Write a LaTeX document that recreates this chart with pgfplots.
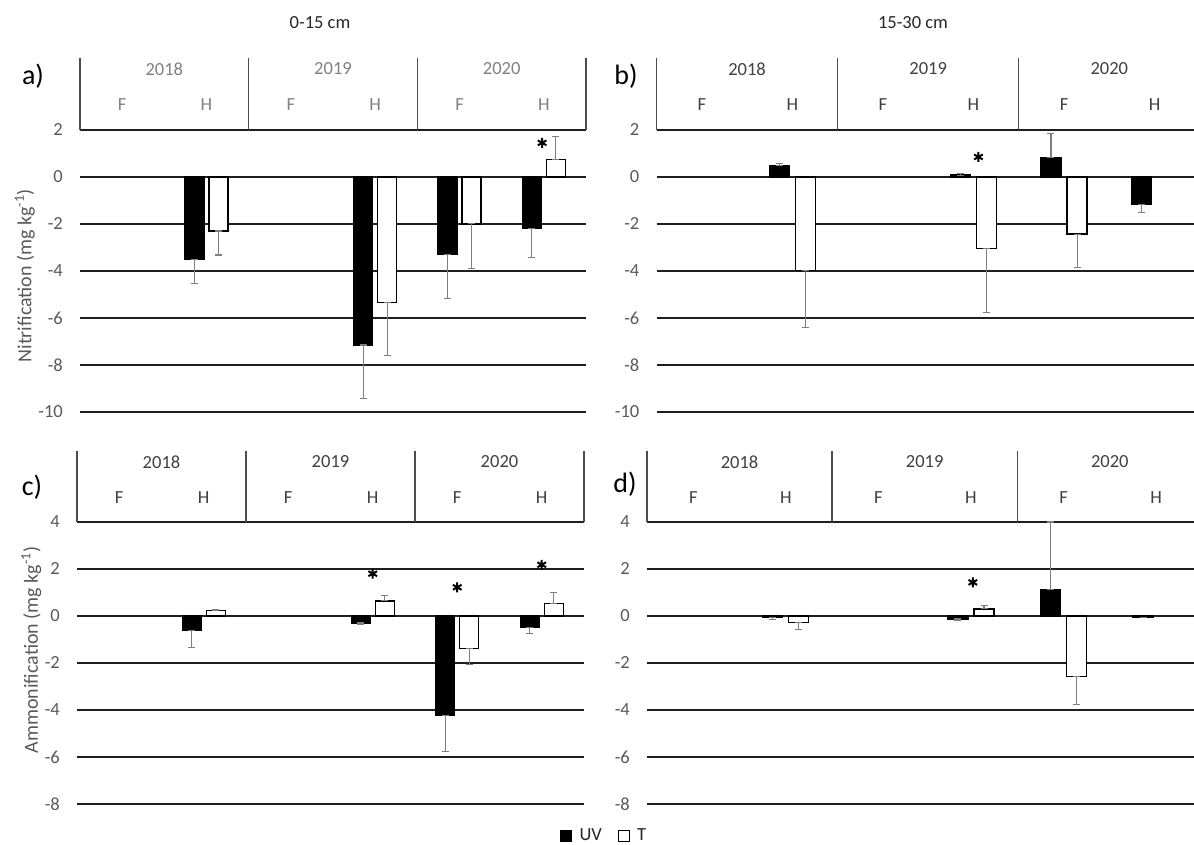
\documentclass[border=0pt]{standalone}
\usepackage{pgfplots}
\pgfplotsset{compat=1.18}
\usepackage{fontspec}
\setmainfont{Carlito}
\newcommand\fs{\fontsize{18.5pt}{22pt}\selectfont}
\newcommand\fy{\fontsize{20pt}{24pt}\selectfont}
\newcommand\fl{\fontsize{28pt}{32pt}\selectfont}
\definecolor{txt}{HTML}{595959}
\definecolor{hdr}{HTML}{404040}
\definecolor{hdra}{HTML}{808080}
\definecolor{errc}{HTML}{7F7F7F}
\tikzset{hline/.style={black!70, line width=1.4pt}}
% header labels: #1 colour, #2 y of years, #3 y of F/H
\newcommand\hdrnodes[3]{%
  \node[font=\fs, text=#1] at (axis cs:0.5,#2) {2018};
  \node[font=\fs, text=#1] at (axis cs:2.5,#2) {2019};
  \node[font=\fs, text=#1] at (axis cs:4.5,#2) {2020};
  \node[font=\fs, text=#1] at (axis cs:0,#3) {F};
  \node[font=\fs, text=#1] at (axis cs:1,#3) {H};
  \node[font=\fs, text=#1] at (axis cs:2,#3) {F};
  \node[font=\fs, text=#1] at (axis cs:3,#3) {H};
  \node[font=\fs, text=#1] at (axis cs:4,#3) {F};
  \node[font=\fs, text=#1] at (axis cs:5,#3) {H};}
\pgfplotsset{
  panel/.style={
    scale only axis, anchor=south west, clip=false,
    axis line style={draw=none},
    major tick length=0pt,
    xtick=\empty,
    xmin=-0.5,
    ymajorgrids,
    grid style={black!88, line width=1.5pt},
    yticklabel style={font=\fs, text=txt, anchor=east, inner sep=0pt, xshift=-17pt},
    ylabel style={font=\fy, text=txt},
  },
  errs/.style={error bars/y dir=both, error bars/y explicit,
    error bars/error bar style={errc, line width=1.1pt},
    error bars/error mark options={errc, line width=1.1pt, mark size=3.5pt, rotate=90}},
  uv/.style={ybar, bar shift=0pt, fill=black, draw=black, line width=1.2pt, errs},
  tt/.style={ybar, bar shift=0pt, fill=white, draw=black, line width=1.2pt, errs},
  stars/.style={only marks, mark=asterisk, mark size=5pt, line width=2pt, black, forget plot},
}
\begin{document}
\begin{tikzpicture}
\path[use as bounding box] (0,0) rectangle (1194pt,844pt);
\node[font=\fs, text=black!85] at (320pt,821pt) {0-15 cm};
\node[font=\fs, text=black!85] at (913pt,821pt) {15-30 cm};
\node[font=\fl] at (33pt,768pt) {a)};
\node[font=\fl] at (626pt,768pt) {b)};
\node[font=\fl] at (32pt,357pt) {c)};
\node[font=\fl] at (625pt,360pt) {d)};

% ---------- a) ----------
\begin{axis}[panel, at={(80pt,432pt)}, width=506pt, height=354pt,
  xmax=5.5, ymin=-10, ymax=5.06,
  ytick={-10,-8,-6,-4,-2,0,2}, yticklabels={-10,-8,-6,-4,-2,0,2},
  ylabel={Nitrification (mg kg\textsuperscript{-1})},
  ylabel style={at={(ticklabel cs:0.385)}}]
\addplot[uv, bar width=19pt] coordinates {
  (0.858,-3.5) += (0,0) -= (0,1.05)
  (2.858,-7.15) += (0,0) -= (0,2.27)
  (3.858,-3.3) += (0,0) -= (0,1.87)
  (4.858,-2.2) += (0,0) -= (0,1.23)};
\addplot[tt, bar width=19pt] coordinates {
  (1.142,-2.3) += (0,0) -= (0,1.02)
  (3.142,-5.35) += (0,0) -= (0,2.23)
  (4.142,-2.0) += (0,0) -= (0,1.88)
  (5.142,0.75) += (0,0.98) -= (0,0)};
\addplot[stars] coordinates {(4.98,1.45)};
\draw[hline] (axis cs:-0.5,2) -- (axis cs:-0.5,5.06);
\draw[hline] (axis cs:1.5,2) -- (axis cs:1.5,5.06);
\draw[hline] (axis cs:3.5,2) -- (axis cs:3.5,5.06);
\draw[hline] (axis cs:5.5,2) -- (axis cs:5.5,5.06);
\hdrnodes{hdra}{4.6}{3.06}
\end{axis}

% ---------- b) ----------
\begin{axis}[panel, at={(656.5pt,432pt)}, width=537pt, height=354pt,
  xmax=5.43, ymin=-10, ymax=5.06,
  ytick={-10,-8,-6,-4,-2,0,2}, yticklabels={-10,-8,-6,-4,-2,0,2}]
\addplot[uv, bar width=20pt] coordinates {
  (0.856,0.5) += (0,0.07) -= (0,0)
  (2.856,0.08) += (0,0.08) -= (0,0)
  (3.856,0.81) += (0,1.03) -= (0,0)
  (4.856,-1.18) += (0,0) -= (0,0.34)};
\addplot[tt, bar width=20pt] coordinates {
  (1.144,-3.97) += (0,0) -= (0,2.44)
  (3.144,-3.03) += (0,0) -= (0,2.74)
  (4.144,-2.43) += (0,0) -= (0,1.42)};
\addplot[stars] coordinates {(3.055,0.85)};
\draw[hline] (axis cs:-0.5,2) -- (axis cs:-0.5,5.06);
\draw[hline] (axis cs:1.5,2) -- (axis cs:1.5,5.06);
\draw[hline] (axis cs:3.5,2) -- (axis cs:3.5,5.06);
\hdrnodes{hdr}{4.6}{3.06}
\end{axis}

% ---------- c) ----------
\begin{axis}[panel, at={(77pt,40pt)}, width=507pt, height=353pt,
  xmax=5.5, ymin=-8, ymax=7.02,
  ytick={-8,-6,-4,-2,0,2,4}, yticklabels={-8,-6,-4,-2,0,2,4},
  ylabel={Ammonification (mg kg\textsuperscript{-1})},
  ylabel style={at={(ticklabel cs:0.436)}},
  legend image code/.code={\draw[#1, line width=1pt] (0pt,-5.5pt) rectangle (11pt,5.5pt); \path (16pt,0pt);},
  legend style={at={(1.04,-0.09)}, anchor=center, draw=none, fill=none,
    legend columns=2, font=\fs, text=black!85,
    /tikz/every even column/.append style={column sep=14pt}},
  legend cell align=left]
\addplot[uv, bar width=19pt] coordinates {
  (0.858,-0.61) += (0,0) -= (0,0.72)
  (2.858,-0.3) += (0,0) -= (0,0.07)
  (3.858,-4.24) += (0,0) -= (0,1.54)
  (4.858,-0.48) += (0,0) -= (0,0.26)};
\addlegendentry{UV}
\addplot[tt, bar width=19pt] coordinates {
  (1.142,0.23) += (0,0.03) -= (0,0)
  (3.142,0.64) += (0,0.25) -= (0,0)
  (4.142,-1.37) += (0,0) -= (0,0.71)
  (5.142,0.54) += (0,0.46) -= (0,0)};
\addlegendentry{T}
\addplot[stars] coordinates {(3,1.8) (4,1.22) (5,2.18)};
\draw[hline] (axis cs:-0.5,4) -- (axis cs:-0.5,7.02);
\draw[hline] (axis cs:1.5,4) -- (axis cs:1.5,7.02);
\draw[hline] (axis cs:3.5,4) -- (axis cs:3.5,7.02);
\draw[hline] (axis cs:5.5,4) -- (axis cs:5.5,7.02);
\hdrnodes{hdr}{6.55}{5.06}
\end{axis}

% ---------- d) ----------
\begin{axis}[panel, at={(647pt,40pt)}, width=547pt, height=353pt,
  xmax=5.41, ymin=-8, ymax=7.02,
  ytick={-8,-6,-4,-2,0,2,4}, yticklabels={-8,-6,-4,-2,0,2,4}]
\addplot[uv, bar width=20pt] coordinates {
  (0.859,-0.06) += (0,0) -= (0,0.08)
  (2.859,-0.13) += (0,0) -= (0,0.04)
  (3.859,1.12) += (0,2.88) -= (0,0)
  (4.859,-0.05) += (0,0) -= (0,0.02)};
\addplot[tt, bar width=20pt] coordinates {
  (1.141,-0.28) += (0,0) -= (0,0.28)
  (3.141,0.3) += (0,0.13) -= (0,0)
  (4.141,-2.59) += (0,0) -= (0,1.16)};
\addplot[stars] coordinates {(3.02,1.43)};
\draw[hline] (axis cs:-0.5,4) -- (axis cs:-0.5,7.02);
\draw[hline] (axis cs:1.5,4) -- (axis cs:1.5,7.02);
\draw[hline] (axis cs:3.5,4) -- (axis cs:3.5,7.02);
\hdrnodes{hdr}{6.55}{5.06}
\end{axis}
\end{tikzpicture}
\end{document}
